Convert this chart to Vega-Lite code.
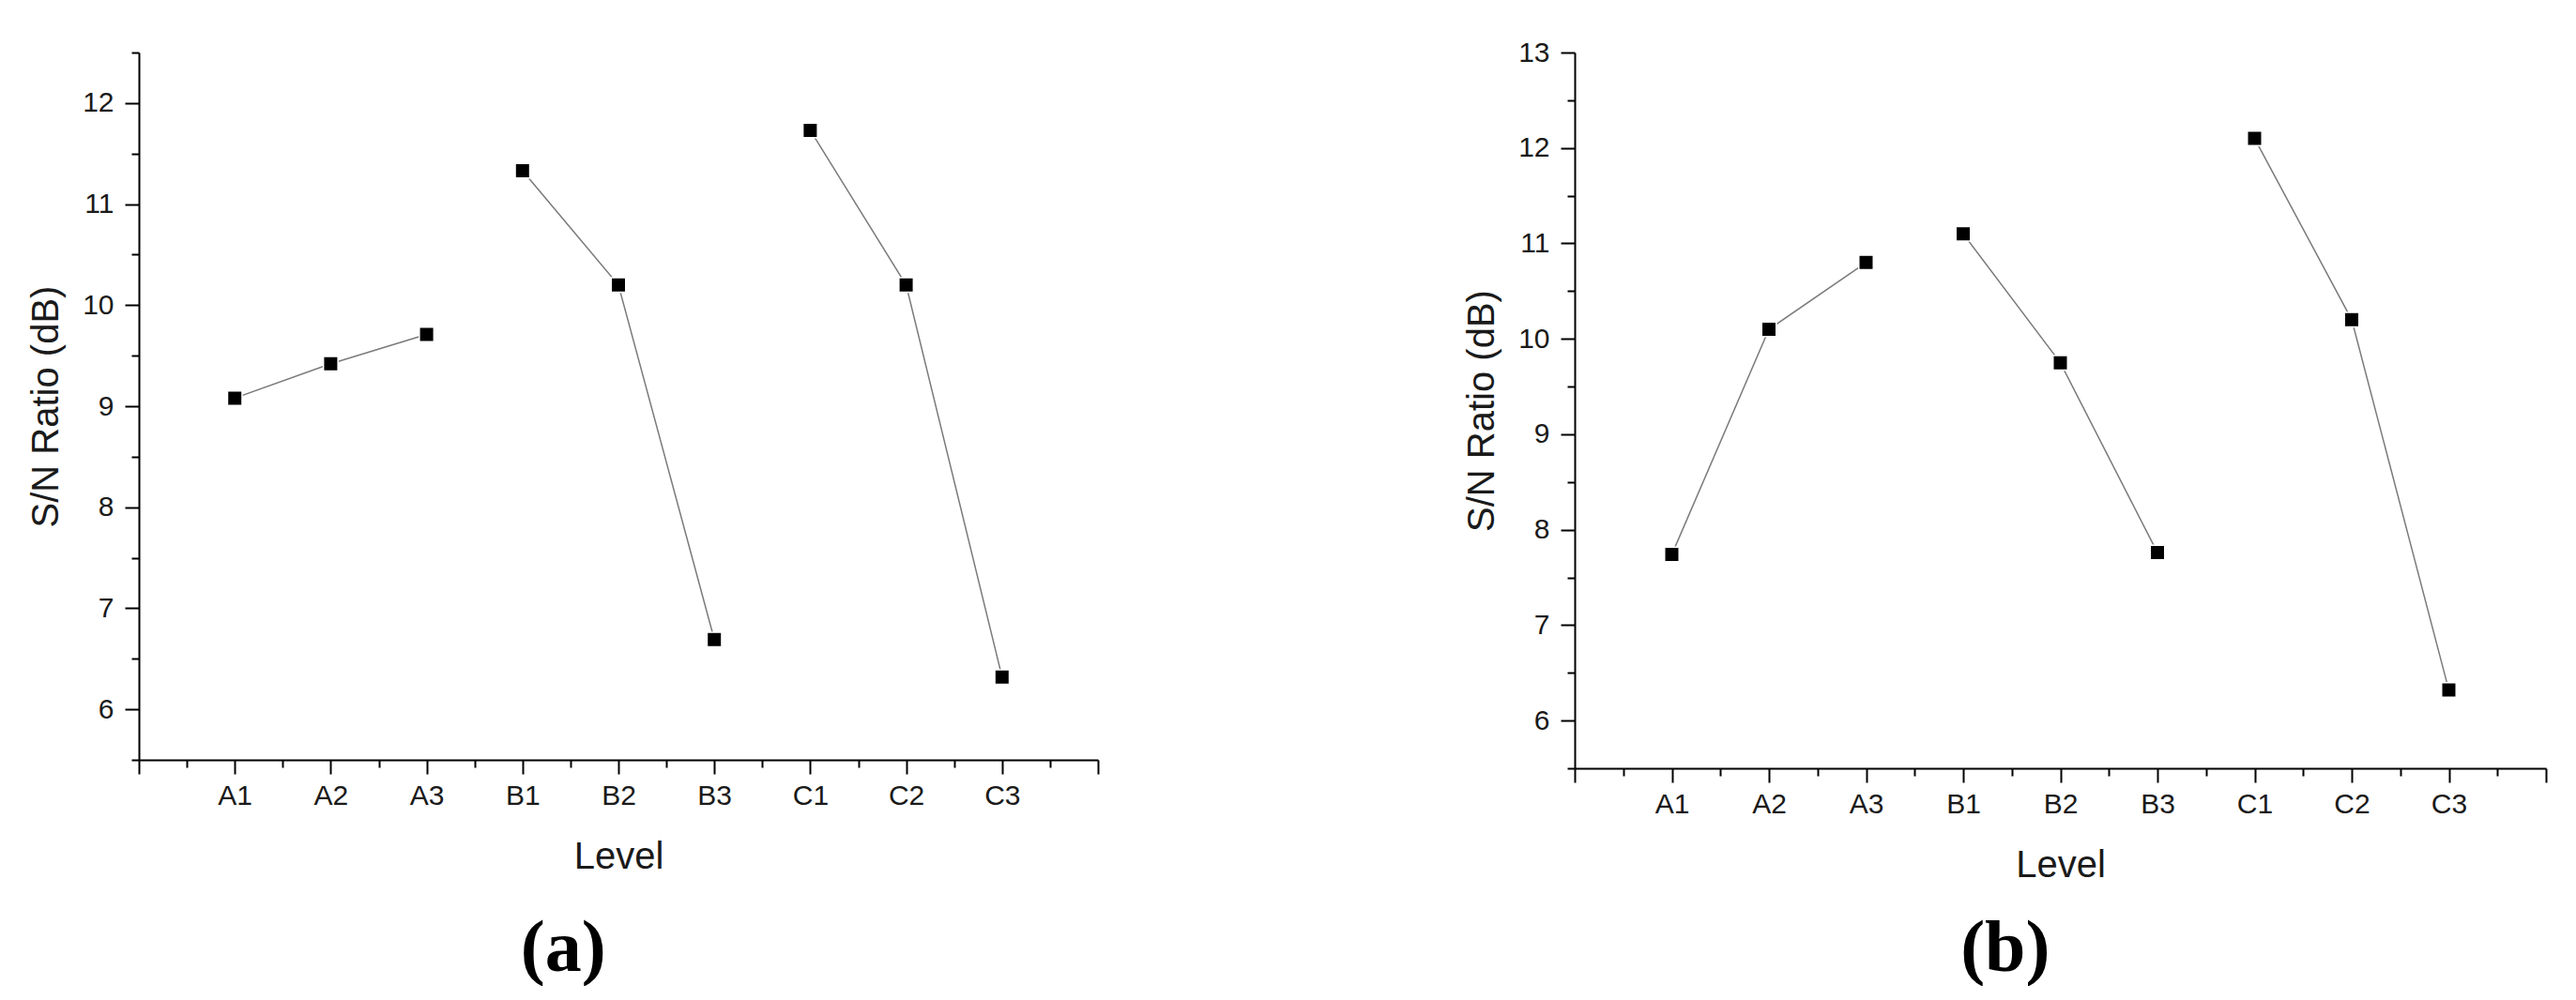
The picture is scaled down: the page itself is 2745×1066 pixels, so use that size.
{
  "$schema": "https://vega.github.io/schema/vega-lite/v6.json",
  "background": "white",
  "padding": {"left": 29, "top": 41, "right": 10, "bottom": 0},
  "bounds": "flush",
  "spacing": 508,
  "config": {
    "view": {"stroke": null},
    "font": "Liberation Sans",
    "axis": {
      "grid": false,
      "domainColor": "black",
      "domainWidth": 2,
      "tickColor": "black",
      "tickWidth": 2,
      "labelFont": "Liberation Sans",
      "labelFontSize": 30,
      "labelColor": "#1a1a1a",
      "labelFlush": false,
      "labelOverlap": false,
      "titleFont": "Liberation Sans",
      "titleFontSize": 40,
      "titleFontWeight": "normal",
      "titleColor": "#1a1a1a"
    },
    "title": {"font": "Liberation Serif", "fontWeight": "bold", "fontSize": 78, "color": "black"}
  },
  "datasets": {
    "a": [
      {"level": "A1", "pos": 1, "factor": "A", "sn": 9.08},
      {"level": "A2", "pos": 2, "factor": "A", "sn": 9.42},
      {"level": "A3", "pos": 3, "factor": "A", "sn": 9.71},
      {"level": "B1", "pos": 4, "factor": "B", "sn": 11.33},
      {"level": "B2", "pos": 5, "factor": "B", "sn": 10.2},
      {"level": "B3", "pos": 6, "factor": "B", "sn": 6.69},
      {"level": "C1", "pos": 7, "factor": "C", "sn": 11.73},
      {"level": "C2", "pos": 8, "factor": "C", "sn": 10.2},
      {"level": "C3", "pos": 9, "factor": "C", "sn": 6.32}
    ],
    "b": [
      {"level": "A1", "pos": 1, "factor": "A", "sn": 7.74},
      {"level": "A2", "pos": 2, "factor": "A", "sn": 10.1},
      {"level": "A3", "pos": 3, "factor": "A", "sn": 10.8},
      {"level": "B1", "pos": 4, "factor": "B", "sn": 11.1},
      {"level": "B2", "pos": 5, "factor": "B", "sn": 9.75},
      {"level": "B3", "pos": 6, "factor": "B", "sn": 7.76},
      {"level": "C1", "pos": 7, "factor": "C", "sn": 12.1},
      {"level": "C2", "pos": 8, "factor": "C", "sn": 10.2},
      {"level": "C3", "pos": 9, "factor": "C", "sn": 6.32}
    ]
  },
  "hconcat": [
    {
      "width": 1022,
      "height": 754,
      "data": {"name": "a"},
      "title": {"text": "(a)", "orient": "bottom", "anchor": "middle", "frame": "bounds", "offset": 40},
      "encoding": {
        "x": {
          "field": "pos", "type": "quantitative",
          "scale": {"domain": [0, 10], "nice": false, "zero": false},
          "axis": {
            "title": "Level",
            "values": [0, 0.5, 1, 1.5, 2, 2.5, 3, 3.5, 4, 4.5, 5, 5.5, 6, 6.5, 7, 7.5, 8, 8.5, 9, 9.5, 10],
            "labelExpr": "datum.value >= 1 && datum.value <= 9 && datum.value % 1 === 0 ? ['A1','A2','A3','B1','B2','B3','C1','C2','C3'][datum.value - 1] : ''",
            "tickSize": {"condition": {"test": "datum.value % 1 === 0", "value": 15}, "value": 8},
            "labelPadding": 8,
            "titlePadding": 30
          }
        },
        "y": {
          "field": "sn", "type": "quantitative",
          "scale": {"domain": [5.5, 12.5], "nice": false, "zero": false},
          "axis": {
            "title": "S/N Ratio (dB)",
            "values": [5.5, 6, 6.5, 7, 7.5, 8, 8.5, 9, 9.5, 10, 10.5, 11, 11.5, 12, 12.5],
            "labelExpr": "datum.value % 1 === 0 ? format(datum.value, 'd') : ''",
            "tickSize": {"condition": {"test": "datum.value % 1 === 0", "value": 15}, "value": 8},
            "labelPadding": 12,
            "titlePadding": 18
          }
        }
      },
      "layer": [
        {"mark": {"type": "line", "color": "#7a7a7a", "strokeWidth": 1.5}, "encoding": {"detail": {"field": "factor"}}},
        {"mark": {"type": "square", "size": 240, "color": "black", "filled": true, "opacity": 1, "stroke": "white", "strokeWidth": 1.5}}
      ]
    },
    {
      "width": 1035,
      "height": 763,
      "data": {"name": "b"},
      "title": {"text": "(b)", "orient": "bottom", "anchor": "middle", "frame": "bounds", "offset": 31},
      "encoding": {
        "x": {
          "field": "pos", "type": "quantitative",
          "scale": {"domain": [0, 10], "nice": false, "zero": false},
          "axis": {
            "title": "Level",
            "values": [0, 0.5, 1, 1.5, 2, 2.5, 3, 3.5, 4, 4.5, 5, 5.5, 6, 6.5, 7, 7.5, 8, 8.5, 9, 9.5, 10],
            "labelExpr": "datum.value >= 1 && datum.value <= 9 && datum.value % 1 === 0 ? ['A1','A2','A3','B1','B2','B3','C1','C2','C3'][datum.value - 1] : ''",
            "tickSize": {"condition": {"test": "datum.value % 1 === 0", "value": 15}, "value": 8},
            "labelPadding": 8,
            "titlePadding": 30
          }
        },
        "y": {
          "field": "sn", "type": "quantitative",
          "scale": {"domain": [5.5, 13], "nice": false, "zero": false},
          "axis": {
            "title": "S/N Ratio (dB)",
            "values": [5.5, 6, 6.5, 7, 7.5, 8, 8.5, 9, 9.5, 10, 10.5, 11, 11.5, 12, 12.5, 13],
            "labelExpr": "datum.value % 1 === 0 ? format(datum.value, 'd') : ''",
            "tickSize": {"condition": {"test": "datum.value % 1 === 0", "value": 15}, "value": 8},
            "labelPadding": 12,
            "titlePadding": 18
          }
        }
      },
      "layer": [
        {"mark": {"type": "line", "color": "#7a7a7a", "strokeWidth": 1.5}, "encoding": {"detail": {"field": "factor"}}},
        {"mark": {"type": "square", "size": 240, "color": "black", "filled": true, "opacity": 1, "stroke": "white", "strokeWidth": 1.5}}
      ]
    }
  ]
}
